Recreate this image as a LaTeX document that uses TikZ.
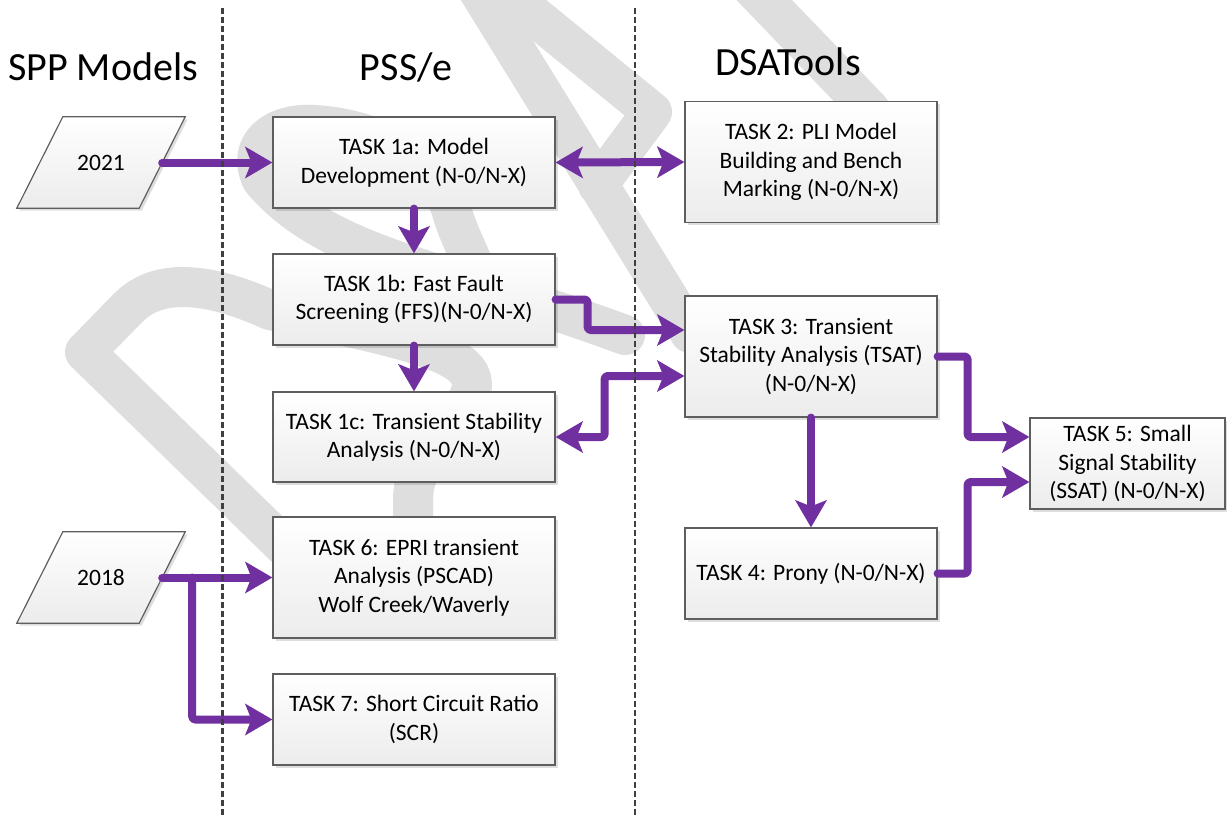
\documentclass[tikz,border=0pt]{standalone}
\usepackage{fontspec}
\setmainfont{Carlito}
\usetikzlibrary{arrows.meta,shadows,calc}
\definecolor{arrowpurple}{HTML}{7030A0}
\definecolor{wm}{HTML}{DEDEDE}
\definecolor{boxborder}{HTML}{5E5E5E}
\definecolor{dashgray}{HTML}{3F3F3F}
\begin{document}
\begin{tikzpicture}[x=1pt,y=-1pt,
  boxfont/.style={font=\fontsize{23.5}{28.5}\selectfont},
  boxlook/.style={draw=boxborder, line width=1.2pt, top color=white, bottom color=gray!15,
    drop shadow={shadow xshift=2.5pt, shadow yshift=-2.5pt, fill=black, opacity=0.13}},
  task/.style={rectangle, boxlook, align=center, boxfont, inner sep=0pt},
  yearbox/.style={rectangle, boxfont, inner sep=0pt, minimum width=122pt, minimum height=91pt},
  title/.style={font=\fontsize{40}{48}\selectfont, anchor=base, inner sep=0pt},
  conn/.style={draw=arrowpurple, line width=8pt, rounded corners=3pt, line cap=round, line join=round},
  wmark/.style={draw=wm, line width=40pt, line cap=round, line join=round},
  sep/.style={draw=dashgray, line width=2.8pt, dash pattern=on 5.5pt off 3.5pt},
  >={Stealth[length=27pt,width=31pt,inset=6pt]}
]
\useasboundingbox (0,0) rectangle (1227,817);
\fill[white] (0,0) rectangle (1227,817);

% watermark strokes
\begin{scope}
\clip (0,0) rectangle (1227,817);
\draw[wmark] (350,610) -- (85,352) -- (128,308) .. controls (160,275) and (215,285) .. (270,310)
  .. controls (360,330) and (450,345) .. (468,372) .. controls (490,405) and (413,440) .. (413,500) -- (413,570);
\draw[wmark] (625,335) .. controls (450,270) and (330,260) .. (262,180)
  .. controls (245,145) and (275,122) .. (315,125) .. controls (390,130) and (440,170) .. (452,212)
  .. controls (458,232) and (465,245) .. (472,262);
\draw[wmark] (472,-20) -- (690,333);
\draw[wmark] (490,-20) -- (652,112) -- (598,185);
\draw[wmark] (745,-20) -- (870,110);
\end{scope}

% titles
\node[title, anchor=base west] (h1) at (8,80) {SPP Models};
\node[title] (h2) at (406,80) {PSS/e};
\node[title] (h3) at (788,75) {DSATools};

% year inputs (parallelograms)
\node[yearbox] (y2021) at (101,162.5) {};
\node[yearbox] (y2018) at (101,577.5) {};
\path[boxlook] ([xshift=23pt]y2021.north west) -- ([xshift=23pt]y2021.north east)
  -- ([xshift=-23pt]y2021.south east) -- ([xshift=-23pt]y2021.south west) -- cycle;
\path[boxlook] ([xshift=23pt]y2018.north west) -- ([xshift=23pt]y2018.north east)
  -- ([xshift=-23pt]y2018.south east) -- ([xshift=-23pt]y2018.south west) -- cycle;
\node[boxfont] (l2021) at (y2021.center) {2021};
\node[boxfont] (l2018) at (y2018.center) {2018};

% PSS/e tasks
\node[task, minimum width=282pt, minimum height=91pt] (t1a) at (414,162.5) {TASK 1a: Model\\Development (N-0/N-X)};
\node[task, minimum width=282pt, minimum height=91pt] (t1b) at (414,299.5) {TASK 1b: Fast Fault\\Screening (FFS)(N-0/N-X)};
\node[task, minimum width=282pt, minimum height=90pt] (t1c) at (414,437) {TASK 1c: Transient Stability\\Analysis (N-0/N-X)};
\node[task, minimum width=282pt, minimum height=121pt] (t6) at (414,577.5) {TASK 6: EPRI transient\\Analysis (PSCAD)\\Wolf Creek/Waverly};
\node[task, minimum width=282pt, minimum height=91pt] (t7) at (414,719.5) {TASK 7: Short Circuit Ratio\\(SCR)};

% DSATools tasks
\node[task, minimum width=252pt, minimum height=121pt] (t2) at (811,162) {TASK 2: PLI Model\\Building and Bench\\Marking (N-0/N-X)};
\node[task, minimum width=252pt, minimum height=121pt] (t3) at (811,356.5) {TASK 3: Transient\\Stability Analysis (TSAT)\\(N-0/N-X)};
\node[task, minimum width=252pt, minimum height=91pt] (t4) at (811,573.5) {TASK 4: Prony (N-0/N-X)};
\node[task, minimum width=195pt, minimum height=91pt] (t5) at (1127.5,463.5) {TASK 5: Small\\Signal Stability\\(SSAT) (N-0/N-X)};

% connectors
\draw[conn,->] (y2021.east) -- (t1a.west);
\draw[conn,<->] (t1a.east) -- (t2.west);
\draw[conn,->] (t1a.south) -- (t1b.north);
\draw[conn,->] (t1b.east) -- ++(32,0) |- ([yshift=26.5pt]t3.west);
\draw[conn,->] (t1b.south) -- (t1c.north);
\draw[conn,<->] ([yshift=-19.5pt]t3.west) -| ($(t1c.east)+(49,0)$) -- (t1c.east);
\draw[conn,->] (t3.east) -- ++(30,0) |- ([yshift=26.5pt]t5.west);
\draw[conn,->] (t3.south) -- (t4.north);
\draw[conn,->] (t4.east) -- ++(30,0) |- ([yshift=-18.5pt]t5.west);
\draw[conn,->] (y2018.east) -- (t6.west);
\coordinate (br) at ($(y2018.east)+(30,0)$);
\draw[conn,->] (br) |- (t7.west);

% swimlane separators
\coordinate (s1top) at (222.5,8);
\coordinate (s1bot) at (222.5,817);
\coordinate (s2top) at (635,8);
\coordinate (s2bot) at (635,817);
\draw[sep] (s1top) -- (s1bot);
\draw[sep] (s2top) -- (s2bot);
\end{tikzpicture}
\end{document}
